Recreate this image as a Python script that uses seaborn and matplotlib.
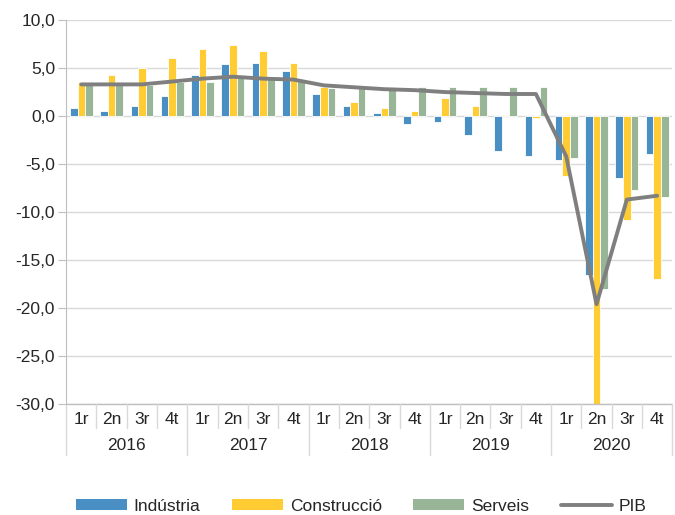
import numpy as np
import pandas as pd
import seaborn as sns
import matplotlib.pyplot as plt
from matplotlib.patches import Patch
from matplotlib.lines import Line2D
from matplotlib.transforms import blended_transform_factory

# Data
years = ['2016', '2017', '2018', '2019', '2020']
quarters = ['1r', '2n', '3r', '4t']
industria = [0.8, 0.5, 1.0, 2.1, 4.3, 5.4, 5.5, 4.7, 2.3, 1.1, 0.3, -0.8,
             -0.6, -2.0, -3.6, -4.2, -4.6, -16.6, -6.5, -3.9]
construccio = [3.6, 4.3, 5.0, 6.0, 7.0, 7.4, 6.8, 5.5, 3.0, 1.5, 0.8, 0.5,
               1.9, 1.0, 0.1, -0.2, -6.2, -30.2, -10.8, -17.0]
serveis = [3.2, 3.2, 3.2, 3.5, 3.6, 4.2, 4.0, 3.8, 2.9, 3.1, 3.0, 3.0,
           3.0, 3.0, 3.0, 3.0, -4.4, -18.0, -7.7, -8.4]
pib = [3.3, 3.3, 3.3, 3.6, 3.9, 4.1, 3.9, 3.8, 3.2, 3.0, 2.8, 2.7,
       2.5, 2.4, 2.3, 2.3, -4.2, -19.6, -8.7, -8.3]
series_names = ['Indústria', 'Construcció', 'Serveis']
colors = ['#4a8fc4', '#ffcc33', '#98b598']
pib_color = '#7f7f7f'
y_ticks = [10, 5, 0, -5, -10, -15, -20, -25, -30]

labels = [f'{y} {q}' for y in years for q in quarters]
df = pd.DataFrame({'periode': labels, 'Indústria': industria,
                   'Construcció': construccio, 'Serveis': serveis})
df_long = df.melt(id_vars='periode', var_name='sector', value_name='valor')

sns.set_style('white')
plt.rcParams['font.family'] = ['Liberation Sans', 'DejaVu Sans']
fs = 12.5

fig = plt.figure(figsize=(6.75, 5.15), dpi=100)
ax = fig.add_axes([0.098, 0.2155, 0.898, 0.7455])

for t in y_ticks:
    ax.axhline(t, color='#d9d9d9', lw=1, zorder=0)

sns.barplot(data=df_long, x='periode', y='valor', hue='sector',
            hue_order=series_names, palette=colors, saturation=1,
            width=0.75, edgecolor='white', linewidth=0.6, ax=ax,
            legend=False, zorder=2)

sns.lineplot(x=np.arange(len(pib)), y=pib, color=pib_color, lw=2.8,
             ax=ax, zorder=3)

ax.set_ylim(-30, 10)
ax.set_xlim(-0.5, len(labels) - 0.5)
ax.set_yticks(y_ticks)
ax.set_yticklabels([f'{t:.1f}'.replace('.', ',') for t in y_ticks], fontsize=fs)
ax.tick_params(axis='y', length=6, color='#bfbfbf', left=True, pad=2)
ax.set_xticks(range(len(labels)))
ax.set_xticklabels(quarters * len(years), fontsize=fs)
ax.tick_params(axis='x', length=0, pad=6)
ax.set_xlabel('')
ax.set_ylabel('')

for s in ['top', 'right', 'bottom']:
    ax.spines[s].set_visible(False)
ax.spines['left'].set_color('#bfbfbf')

# two-level category axis
tr = blended_transform_factory(ax.transData, ax.transAxes)
ax.plot([-0.5, len(labels) - 0.5], [0, 0], transform=tr, color='#bfbfbf',
        lw=1, clip_on=False)
for k in range(len(labels) + 1):
    x = k - 0.5
    low = -0.133 if k % 4 == 0 else -0.0625
    ax.plot([x, x], [0, low], transform=tr, color='#d9d9d9', lw=1,
            clip_on=False)
for i, y in enumerate(years):
    ax.text(4 * i + 1.5, -0.107, y, transform=tr, ha='center', va='center',
            fontsize=fs)

handles = [Patch(facecolor=c, edgecolor='none') for c in colors]
handles.append(Line2D([0], [0], color=pib_color, lw=2.8))
fig.legend(handles, series_names + ['PIB'], loc='lower center',
           bbox_to_anchor=(0.535, -0.028), ncol=4, frameon=False, fontsize=fs,
           handlelength=2.95, handleheight=0.55, columnspacing=1.8,
           handletextpad=0.4)

fig.savefig('out.png', dpi=100)
